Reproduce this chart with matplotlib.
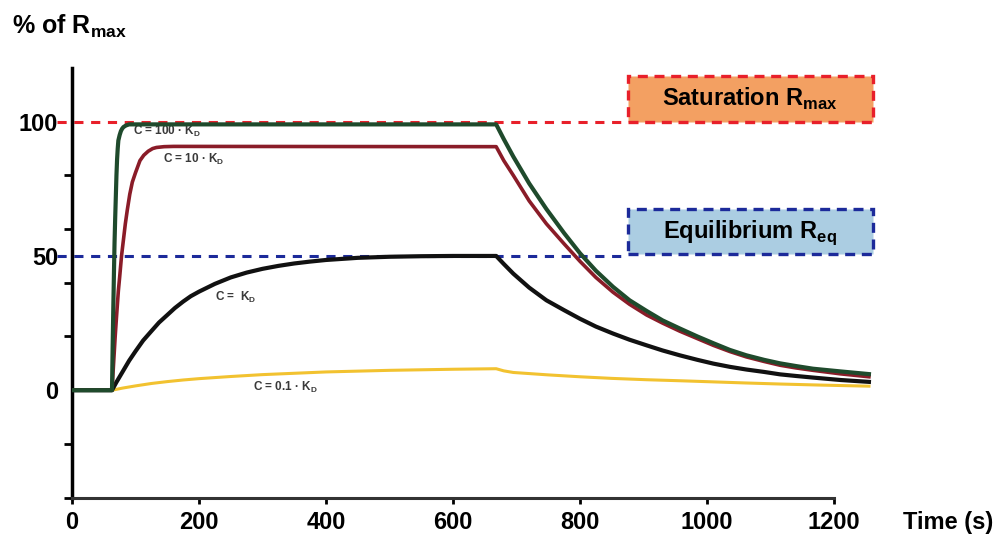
import matplotlib.pyplot as plt
from matplotlib.patches import Rectangle

plt.rcParams['font.family'] = ['Liberation Sans', 'DejaVu Sans']
plt.rcParams['mathtext.fontset'] = 'custom'
plt.rcParams['mathtext.rm'] = 'Liberation Sans'
plt.rcParams['mathtext.bf'] = 'Liberation Sans:bold'

# association / dissociation traces (time in s, % of Rmax)
t_green = [0, 63, 64, 65, 66, 67, 68, 69, 70, 71, 72, 73, 75, 77, 79, 81, 85, 90, 668,
           680, 695, 720, 747, 775, 800, 825, 852, 878, 905, 930, 957, 985, 1010,
           1036, 1062, 1090, 1115, 1140, 1167, 1210, 1255]
v_green = [0, 0, 16, 30, 43, 55, 64, 72, 80, 86, 90, 93, 95, 96.5, 97.4, 98, 98.6, 99, 99,
           93.5, 87, 77, 67.5, 58.5, 51, 44.5, 38.5, 33.5, 29.5, 26, 23, 20, 17.5,
           15, 13, 11.3, 10, 9, 8, 7, 6]

t_red = [0, 63, 65, 68, 70, 73, 75, 78, 81, 84, 87, 91, 95, 100, 107, 113, 120, 127, 133,
         145, 160, 668,
         680, 695, 720, 747, 775, 800, 825, 852, 878, 905, 930, 957, 985, 1010,
         1036, 1062, 1090, 1115, 1140, 1167, 1210, 1255]
v_red = [0, 0, 8, 20, 27, 37, 42, 50, 56, 62, 67, 73, 77.5, 81, 85.5, 87.5, 89, 90, 90.4,
         90.7, 90.8, 90.7,
         85.5, 80, 70.5, 62, 54.5, 48, 42, 36.5, 32, 28, 25, 22, 19.2, 16.7,
         14.4, 12.4, 10.7, 9.3, 8.3, 7.4, 6.1, 5]

t_black = [0, 63, 70, 80, 90, 100, 112, 125, 137, 150, 162, 175, 187, 200, 225, 250, 275,
           300, 325, 350, 375, 400, 450, 500, 550, 600, 668,
           680, 695, 720, 747, 775, 800, 825, 852, 878, 905, 930, 957, 985, 1010,
           1036, 1062, 1090, 1115, 1140, 1167, 1210, 1255]
v_black = [0, 0, 3, 7, 11, 14.5, 18.5, 22, 25.2, 28, 30.6, 33, 35, 36.7, 39.6, 42, 43.8,
           45.2, 46.3, 47.2, 47.9, 48.5, 49.3, 49.7, 49.9, 50, 50,
           47, 43.4, 38.2, 33.5, 29.8, 26.6, 23.7, 21.1, 18.8, 16.7, 14.8, 13, 11.3, 9.9,
           8.7, 7.7, 6.8, 5.9, 5.3, 4.7, 3.8, 3.1]

t_yellow = [0, 63, 80, 100, 125, 150, 175, 200, 250, 300, 350, 400, 450, 500, 550, 600, 668,
            680, 695, 750, 800, 850, 905, 960, 1010, 1060, 1115, 1180, 1255]
v_yellow = [0, 0, 0.8, 1.6, 2.5, 3.2, 3.8, 4.3, 5.1, 5.8, 6.3, 6.8, 7.1, 7.4, 7.6, 7.8, 8,
            7.2, 6.6, 5.7, 5, 4.4, 3.9, 3.5, 3.1, 2.7, 2.3, 1.9, 1.5]

curve_labels = [r"C = 100 · K$_\mathbf{D}$", r"C = 10 · K$_\mathbf{D}$",
                r"C =  K$_\mathbf{D}$", r"C = 0.1 · K$_\mathbf{D}$"]
label_pos = [(96, 96.5), (143, 86), (225, 34.5), (285, 1)]

r_max = 100
r_eq = 50
x_ticks = [0, 200, 400, 600, 800, 1000, 1200]
y_ticks = [0, 50, 100]

fig = plt.figure(figsize=(10, 5.44), dpi=100)
ax = fig.add_axes([0.072, 0.0853, 0.8128, 0.7897])

ax.plot(t_yellow, v_yellow, color='#f2c230', lw=2.2, zorder=3)
ax.plot(t_black, v_black, color='#111111', lw=3, zorder=4)
ax.plot(t_red, v_red, color='#8a1c28', lw=2.6, zorder=5)
ax.plot(t_green, v_green, color='#1f4a2c', lw=3, zorder=6)

# reference levels and their boxes
ax.plot([-24, 876], [r_max, r_max], color='#e8202a', lw=2.2, ls=(0, (3, 2.5)), clip_on=False)
ax.plot([-24, 876], [r_eq, r_eq], color='#1c2a9a', lw=2.2, ls=(0, (3, 2.5)), clip_on=False)
ax.add_patch(Rectangle((876, r_max), 385, 17, facecolor='#f3a062', edgecolor='#e8202a',
                       lw=2.4, ls=(0, (3, 2)), clip_on=False))
ax.add_patch(Rectangle((876, r_eq + 0.6), 385, 17, facecolor='#abcde2', edgecolor='#1c2a9a',
                       lw=2.4, ls=(0, (3, 2)), clip_on=False))
ax.text(1068, 108.6, r"Saturation R$_\mathbf{max}$", ha='center', va='center',
        fontsize=17, fontweight='bold')
ax.text(1068, 58.6, r"Equilibrium R$_\mathbf{eq}$", ha='center', va='center',
        fontsize=17, fontweight='bold')

for txt, (x, y) in zip(curve_labels, label_pos):
    ax.text(x, y, txt, ha='left', va='center', fontsize=8.5, fontweight='bold', color='#3a3a3a')

ax.set_xlim(0, 1280)
ax.set_ylim(-40, 120)
for s in ['top', 'right']:
    ax.spines[s].set_visible(False)
ax.spines['left'].set_linewidth(2.5)
ax.spines['bottom'].set_linewidth(2.2)
ax.spines['bottom'].set_color('#333333')
ax.spines['bottom'].set_bounds(0, 1200)

ax.set_xticks(x_ticks)
ax.set_xticklabels([str(v) for v in x_ticks], fontsize=17, fontweight='bold')
ax.set_yticks(y_ticks)
ax.set_yticklabels([str(v) for v in y_ticks], fontsize=17, fontweight='bold')
ax.set_yticks(range(-40, 101, 20), minor=True)
ax.tick_params(axis='y', which='major', length=0, pad=10)
ax.tick_params(axis='y', which='minor', length=6, width=2, direction='out')
ax.tick_params(axis='x', which='major', length=4, width=2, pad=6)

fig.text(0.012, 0.952, r"% of R$_\mathbf{max}$", ha='left', va='center',
         fontsize=18, fontweight='bold')
fig.text(0.948, 0.040, "Time (s)", ha='center', va='center', fontsize=17, fontweight='bold')

fig.savefig('out.png')
